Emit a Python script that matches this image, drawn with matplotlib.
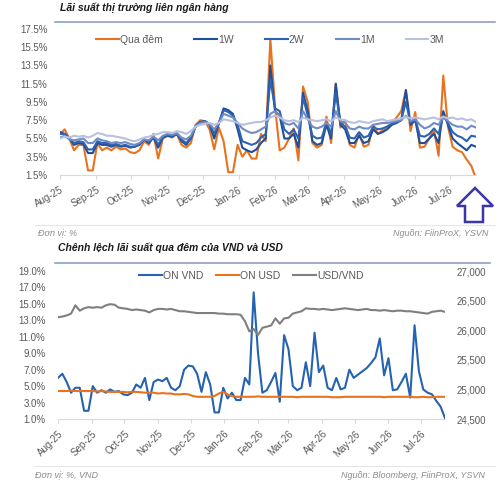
import matplotlib.pyplot as plt
import matplotlib.dates as mdates
from matplotlib.patches import Polygon
from matplotlib.lines import Line2D
import pandas as pd

plt.rcParams['font.family'] = ['Liberation Sans', 'DejaVu Sans']

# mốc thời gian: mỗi điểm cách nhau 4 ngày
dates = pd.date_range('2025-08-01', periods=90, freq='4D')

# Lãi suất liên ngân hàng (%)
qua_dem = [6.0, 6.5, 5.5, 4.2, 4.8, 4.8, 2.0, 2.0, 5.0, 4.2,
           4.5, 4.2, 4.6, 4.3, 4.4, 4.0, 3.9, 4.2, 5.2, 4.8,
           6.0, 3.3, 5.5, 5.8, 5.6, 6.0, 4.8, 4.5, 5.0, 7.0,
           7.5, 7.4, 6.5, 4.3, 6.7, 5.2, 1.8, 1.8, 4.8, 3.5,
           4.2, 3.3, 3.3, 6.0, 5.2, 16.4, 9.0, 4.2, 4.5, 5.5,
           6.6, 3.1, 11.2, 9.5, 5.0, 4.5, 4.8, 7.9, 5.0, 11.5,
           6.7, 7.5, 4.8, 4.5, 6.0, 4.6, 4.8, 7.0, 6.0, 6.4,
           6.8, 7.2, 7.8, 8.5, 10.8, 6.3, 8.4, 4.5, 4.6, 5.5,
           6.5, 3.6, 12.4, 6.8, 4.6, 4.2, 4.0, 3.2, 2.5, 1.1]
w1 = [6.2, 6.0, 5.5, 4.8, 5.0, 4.9, 3.9, 3.9, 5.0, 4.8,
      4.8, 4.6, 4.8, 4.6, 4.7, 4.5, 4.6, 4.8, 5.4, 5.0,
      5.6, 4.5, 5.6, 5.8, 5.7, 6.0, 5.2, 4.8, 5.5, 6.8,
      7.3, 7.4, 7.0, 5.5, 7.2, 8.8, 8.6, 8.2, 6.5, 4.5,
      4.2, 4.0, 4.3, 5.0, 5.5, 13.5, 8.5, 8.0, 5.5, 5.5,
      6.0, 4.5, 10.5, 8.5, 5.2, 4.8, 5.0, 7.0, 5.5, 11.5,
      7.0, 6.5, 5.0, 5.0, 5.8, 5.0, 5.2, 6.5, 6.0, 6.2,
      6.5, 7.0, 7.2, 7.5, 10.8, 7.0, 7.5, 5.0, 5.0, 5.5,
      6.0, 5.0, 8.5, 7.0, 5.5, 5.0, 4.6, 4.2, 4.8, 4.6]
w2 = [6.0, 6.0, 5.5, 5.0, 5.2, 5.1, 4.3, 4.3, 5.2, 5.0,
      5.0, 4.8, 4.9, 4.7, 4.8, 4.6, 4.6, 4.9, 5.4, 5.1,
      5.7, 4.8, 5.7, 5.9, 5.8, 6.0, 5.4, 5.0, 5.6, 6.8,
      7.3, 7.4, 7.1, 6.0, 7.2, 8.6, 8.4, 8.0, 7.0, 5.2,
      5.0, 4.8, 5.0, 5.6, 6.0, 12.0, 8.8, 8.5, 6.5, 6.0,
      6.5, 5.5, 10.0, 8.0, 5.8, 5.5, 5.6, 7.2, 6.0, 10.5,
      7.2, 6.8, 5.6, 5.5, 6.2, 5.6, 5.8, 6.8, 6.5, 6.6,
      6.8, 7.1, 7.3, 7.5, 9.5, 7.2, 7.6, 5.8, 5.7, 6.0,
      6.6, 6.0, 8.0, 7.2, 6.2, 5.8, 5.6, 5.2, 5.8, 5.7]
m1 = [5.6, 5.8, 5.4, 5.3, 5.4, 5.5, 5.0, 5.0, 5.5, 5.3,
      5.2, 5.0, 5.1, 5.0, 5.1, 4.9, 4.8, 5.0, 5.4, 5.3,
      5.7, 5.3, 5.8, 6.0, 5.9, 6.1, 5.6, 5.4, 5.8, 6.8,
      7.2, 7.3, 7.1, 6.5, 7.2, 8.2, 8.0, 7.8, 7.2, 6.6,
      6.3, 6.1, 6.2, 6.5, 6.8, 8.2, 8.5, 8.0, 7.2, 7.0,
      7.2, 6.6, 8.5, 7.6, 6.8, 6.6, 6.8, 7.2, 6.8, 8.5,
      7.4, 7.2, 6.6, 6.5, 6.8, 6.6, 6.6, 7.0, 7.1, 7.2,
      7.2, 7.3, 7.4, 7.5, 8.0, 7.4, 7.6, 7.0, 6.6, 6.8,
      7.2, 7.0, 7.8, 7.4, 7.0, 6.8, 6.8, 6.5, 6.9, 6.7]
m3 = [5.5, 5.7, 5.6, 5.8, 5.7, 5.8, 5.6, 5.8, 6.1, 6.0,
      5.8, 5.8, 5.7, 5.6, 5.5, 5.3, 5.2, 5.4, 5.6, 5.7,
      5.9, 6.0, 6.2, 6.2, 6.1, 6.3, 6.2, 6.0, 6.3, 6.8,
      7.0, 7.1, 7.2, 7.0, 7.2, 7.6, 7.5, 7.4, 7.2, 7.0,
      7.1, 7.2, 7.3, 7.3, 7.5, 7.8, 8.0, 7.8, 7.5, 7.4,
      7.5, 7.3, 7.8, 7.6, 7.5, 7.4, 7.5, 7.6, 7.4, 7.8,
      7.6, 7.5, 7.3, 7.2, 7.4, 7.3, 7.2, 7.4, 7.5, 7.6,
      7.4, 7.5, 7.6, 7.7, 7.9, 7.7, 7.8, 7.7, 7.6, 7.7,
      7.8, 7.6, 7.9, 7.7, 7.8, 7.6, 7.7, 7.5, 7.6, 7.3]

# Lãi suất qua đêm USD (%) và tỷ giá USD/VND
on_usd = [4.4, 4.4, 4.4, 4.45, 4.4, 4.4, 4.4, 4.4, 4.4, 4.35,
          4.4, 4.35, 4.3, 4.3, 4.3, 4.3, 4.25, 4.3, 4.3, 4.25,
          4.2, 4.2, 4.2, 4.1, 4.15, 4.1, 4.1, 4.0, 4.0, 4.05,
          4.0, 3.8, 3.7, 3.7, 3.7, 3.7, 3.8, 4.1, 4.3, 4.0,
          3.8, 3.7, 3.7, 3.7, 3.7, 3.7, 3.75, 3.7, 3.7, 3.7,
          3.7, 3.7, 3.7, 3.7, 3.7, 3.65, 3.7, 3.7, 3.7, 3.7,
          3.7, 3.7, 3.7, 3.65, 3.65, 3.65, 3.7, 3.7, 3.7, 3.7,
          3.7, 3.7, 3.7, 3.7, 3.7, 3.65, 3.7, 3.7, 3.7, 3.7,
          3.7, 3.7, 3.65, 3.65, 3.7, 3.65, 3.65, 3.7, 3.7, 3.7]
usd_vnd = [26220, 26230, 26250, 26280, 26420, 26330, 26370, 26390, 26380, 26390,
           26380, 26420, 26440, 26430, 26380, 26370, 26360, 26340, 26350, 26340,
           26330, 26300, 26340, 26360, 26360, 26350, 26360, 26340, 26320, 26320,
           26310, 26300, 26290, 26290, 26290, 26290, 26290, 26280, 26280, 26270,
           26270, 26270, 26260, 26150, 25980, 26020, 25920, 26040, 26060, 26080,
           26200, 26110, 26200, 26210, 26280, 26300, 26320, 26370, 26360, 26360,
           26350, 26360, 26350, 26340, 26350, 26360, 26370, 26360, 26350, 26340,
           26350, 26360, 26340, 26340, 26330, 26340, 26330, 26320, 26330, 26330,
           26320, 26320, 26310, 26300, 26290, 26280, 26310, 26320, 26330, 26310]

top_labels = ['Qua đêm', '1W', '2W', '1M', '3M']
top_colors = ['#e8731e', '#1f4e9a', '#2d63b3', '#6f8cc6', '#b8c1de']
top_series = [qua_dem, w1, w2, m1, m3]

TICK_C = '#595959'
LINE_C = '#d9d9d9'


def style_xaxis(ax, rot):
    ax.xaxis.set_major_locator(mdates.MonthLocator())
    ax.xaxis.set_major_formatter(mdates.DateFormatter('%b-%y'))
    ax.set_xlim(dates[0], dates[-1])
    for lab in ax.get_xticklabels():
        lab.set_rotation(rot)
        lab.set_ha('right')
        lab.set_rotation_mode('anchor')
    ax.tick_params(axis='x', colors=LINE_C, labelcolor=TICK_C, labelsize=7,
                   length=3, pad=4)
    ax.tick_params(axis='y', length=0, labelcolor=TICK_C, labelsize=7, pad=9)
    for s in ['top', 'right', 'left']:
        ax.spines[s].set_visible(False)
    ax.spines['bottom'].set_color(LINE_C)


fig = plt.figure(figsize=(5.0, 4.83), dpi=100)

# -----------------------------
# 1) Lãi suất liên ngân hàng
# -----------------------------
ax1 = fig.add_axes([0.12, 0.6377, 0.832, 0.3023])
for vals, lab, col in zip(top_series, top_labels, top_colors):
    ax1.plot(dates, vals, color=col, lw=1.5, label=lab, solid_joinstyle='round')
ax1.set_ylim(1.5, 17.5)
ax1.set_yticks([1.5 + 2 * k for k in range(9)])
ax1.set_yticklabels([f'{1.5 + 2 * k:.1f}%' for k in range(9)])
style_xaxis(ax1, 30)
ax1.legend(loc='center', bbox_to_anchor=(0.505, 0.925), ncol=5, frameon=False,
           fontsize=7.5, handlelength=2.2, handletextpad=0.1, columnspacing=3.0,
           labelcolor=TICK_C)

fig.text(0.12, 0.984, 'Lãi suất thị trường liên ngân hàng', fontsize=7.5,
         fontweight='bold', fontstyle='italic', color='#1a1a1a', va='center')
fig.add_artist(Line2D([0.11, 0.99], [1 - 22 / 483] * 2, color='#8fa1c0', lw=1.2))
fig.add_artist(Line2D([0.07, 0.99], [1 - 225 / 483] * 2, color='#e6e6e6', lw=0.8))
fig.text(0.076, 1 - 233 / 483, 'Đơn vị: %', fontsize=6.5, fontstyle='italic',
         color='#8c8c8c', va='center')
fig.text(0.976, 1 - 233 / 483, 'Nguồn: FiinProX, YSVN', fontsize=6.5,
         fontstyle='italic', color='#8c8c8c', va='center', ha='right')

# mũi tên chỉ điểm cuối
arrow_px = [(475, 188), (493, 206), (483, 206), (483, 222), (465, 222),
            (465, 206), (457, 206)]
fig.add_artist(Polygon([(x / 500, 1 - y / 483) for x, y in arrow_px],
                       closed=True, fill=False, edgecolor='#3b37a8', lw=1.8,
                       transform=fig.transFigure))

# -----------------------------
# 2) Chênh lệch lãi suất qua đêm
# -----------------------------
ax2 = fig.add_axes([0.116, 0.1325, 0.774, 0.3064])
l1, = ax2.plot(dates, qua_dem, color='#2563b0', lw=1.5, label='ON VND')
l2, = ax2.plot(dates, on_usd, color='#e8731e', lw=1.5, label='ON USD')
ax2.set_ylim(1.0, 19.0)
ax2.set_yticks([1 + 2 * k for k in range(10)])
ax2.set_yticklabels([f'{1 + 2 * k:.1f}%' for k in range(10)])
style_xaxis(ax2, 45)

ax3 = ax2.twinx()
l3, = ax3.plot(dates, usd_vnd, color='#7f7f7f', lw=1.5, label='USD/VND')
ax3.set_ylim(24500, 27000)
ax3.set_yticks(range(24500, 27001, 500))
ax3.set_yticklabels([f'{v:,}' for v in range(24500, 27001, 500)])
ax3.tick_params(axis='y', length=0, labelcolor=TICK_C, labelsize=7, pad=8)
for s in ['top', 'right', 'left', 'bottom']:
    ax3.spines[s].set_visible(False)

ax2.legend(handles=[l1, l2, l3], loc='center', bbox_to_anchor=(0.50, 0.966),
           ncol=3, frameon=False, fontsize=7.5, handlelength=2.2,
           handletextpad=0.1, columnspacing=1.2, labelcolor=TICK_C)

fig.text(0.116, 1 - 248 / 483, 'Chênh lệch lãi suất qua đêm của VND và USD',
         fontsize=7.5, fontweight='bold', fontstyle='italic', color='#1a1a1a',
         va='center')
fig.add_artist(Line2D([0.11, 0.98], [1 - 263 / 483] * 2, color='#8fa1c0', lw=1.2))
fig.add_artist(Line2D([0.07, 0.99], [1 - 466 / 483] * 2, color='#e6e6e6', lw=0.8))
fig.text(0.07, 1 - 475 / 483, 'Đơn vị: %, VND', fontsize=6.5, fontstyle='italic',
         color='#8c8c8c', va='center')
fig.text(0.97, 1 - 475 / 483, 'Nguồn: Bloomberg, FiinProX, YSVN', fontsize=6.5,
         fontstyle='italic', color='#8c8c8c', va='center', ha='right')

fig.savefig('out.png', dpi=100)
